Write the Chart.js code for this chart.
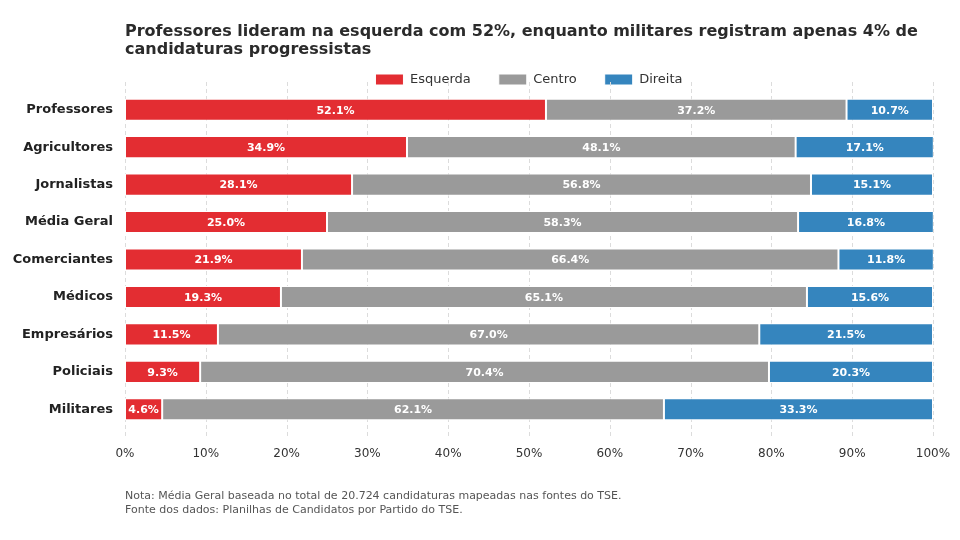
<!DOCTYPE html>
<html lang="pt-BR">
<head>
<meta charset="utf-8">
<title>Candidaturas por profissão</title>
<script src="https://cdn.jsdelivr.net/npm/chart.js@4.4.1/dist/chart.umd.min.js"></script>
<style>
    body { margin: 0; background: #fff; font-family: "DejaVu Sans", sans-serif; }
    #wrap { position: relative; width: 960px; height: 540px; }
    #title { position: absolute; left: 125px; top: 22px; font-size: 16px; font-weight: bold; color: #2b2b2b; line-height: 18px; }
    #note { position: absolute; left: 125px; top: 489px; font-size: 11px; color: #555; line-height: 14px; }
    canvas { position: absolute; left: 0; top: 0; }
</style>
</head>
<body>
<div id="wrap">
    <canvas id="chart" width="960" height="540"></canvas>
    <div id="title">Professores lideram na esquerda com 52%, enquanto militares registram apenas 4% de<br>candidaturas progressistas</div>
    <div id="note">Nota: Média Geral baseada no total de 20.724 candidaturas mapeadas nas fontes do TSE.<br>Fonte dos dados: Planilhas de Candidatos por Partido do TSE.</div>
</div>
<script>
// Data
const categories = ['Professores', 'Agricultores', 'Jornalistas', 'Média Geral', 'Comerciantes', 'Médicos', 'Empresários', 'Policiais', 'Militares'];
const esquerda = [52.1, 34.9, 28.1, 25.0, 21.9, 19.3, 11.5, 9.3, 4.6];
const centro = [37.2, 48.1, 56.8, 58.3, 66.4, 65.1, 67.0, 70.4, 62.1];
const direita = [10.7, 17.1, 15.1, 16.8, 11.8, 15.6, 21.5, 20.3, 33.3];
const xTicks = [0, 10, 20, 30, 40, 50, 60, 70, 80, 90, 100];

// Dashed vertical grid, a little taller than the bars
const gridLines = {
    id: 'gridLines',
    beforeDatasetsDraw(chart) {
        const { ctx, chartArea, scales } = chart;
        ctx.save();
        ctx.strokeStyle = '#dcdcdc';
        ctx.lineWidth = 1;
        ctx.setLineDash([4, 3]);
        xTicks.forEach((v) => {
            const px = Math.round(scales.x.getPixelForValue(v)) + 0.5;
            ctx.beginPath();
            ctx.moveTo(px, chartArea.top - 9);
            ctx.lineTo(px, chartArea.bottom + 9);
            ctx.stroke();
        });
        ctx.restore();
    }
};

// Percent labels inside each segment
const barLabels = {
    id: 'barLabels',
    afterDatasetsDraw(chart) {
        const ctx = chart.ctx;
        ctx.save();
        ctx.font = 'bold 11px "DejaVu Sans"';
        ctx.fillStyle = '#ffffff';
        ctx.textAlign = 'center';
        ctx.textBaseline = 'middle';
        chart.data.datasets.forEach((ds, i) => {
            chart.getDatasetMeta(i).data.forEach((bar, j) => {
                ctx.fillText(ds.data[j].toFixed(1) + '%', (bar.x + bar.base) / 2, bar.y + 1);
            });
        });
        ctx.restore();
    }
};

const ctx = document.getElementById('chart').getContext('2d');
new Chart(ctx, {
    type: 'bar',
    data: {
        labels: categories,
        datasets: [
            { label: 'Esquerda', data: esquerda, backgroundColor: '#e32d32' },
            { label: 'Centro', data: centro, backgroundColor: '#9a9a9a' },
            { label: 'Direita', data: direita, backgroundColor: '#3585be' },
        ],
    },
    options: {
        indexAxis: 'y',
        responsive: false,
        animation: false,
        layout: { padding: { top: 45, right: 27, bottom: 0, left: 0 } },
        datasets: {
            bar: {
                barPercentage: 0.59,
                categoryPercentage: 1,
                borderColor: '#ffffff',
                borderWidth: 1,
                borderSkipped: false,
            },
        },
        scales: {
            x: {
                stacked: true,
                min: 0,
                max: 100,
                grid: { display: false, drawTicks: false },
                border: { display: false },
                ticks: {
                    stepSize: 10,
                    padding: 19,
                    color: '#333',
                    font: { family: 'DejaVu Sans', size: 12 },
                    callback: (v) => v + '%',
                },
                afterFit: (scale) => {
                    scale.height = 112;
                    scale.paddingLeft = 0;
                    scale.paddingRight = 0;
                },
            },
            y: {
                stacked: true,
                grid: { display: false, drawTicks: false },
                border: { display: false },
                ticks: {
                    padding: 12,
                    color: '#222',
                    font: { family: 'DejaVu Sans', size: 13, weight: 'bold' },
                },
                afterFit: (scale) => { scale.width = 125; },
            },
        },
        plugins: {
            legend: {
                position: 'top',
                fullSize: false,
                maxHeight: 46,
                labels: {
                    boxWidth: 28,
                    boxHeight: 11,
                    padding: 28,
                    color: '#333',
                    font: { family: 'DejaVu Sans', size: 13 },
                },
            },
            tooltip: { enabled: false },
        },
    },
    plugins: [gridLines, barLabels],
});
</script>
</body>
</html>
